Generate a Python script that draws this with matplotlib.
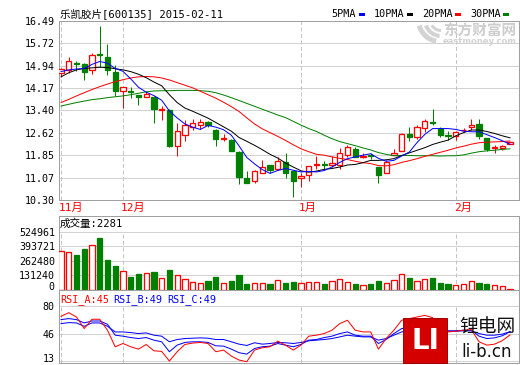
import matplotlib
matplotlib.use("Agg")
import matplotlib.pyplot as plt
from matplotlib.patches import Rectangle, Wedge
import matplotlib.transforms as mtrans
import numpy as np

# ---------------- data ----------------
title = "乐凯胶片[600135] 2015-02-11"
opens = [14.68, 14.80, 15.03, 15.00, 14.80, 15.35, 15.23, 14.72, 14.06, 14.06,
         13.93, 13.85, 13.85, 13.42, 13.41, 12.17, 12.54, 12.84, 12.91, 13.00,
         12.72, 12.41, 12.38, 11.96, 11.06, 10.97, 11.25, 11.52, 11.36, 11.62,
         11.32, 11.06, 11.15, 11.51, 11.55, 11.50, 11.50, 11.87, 12.05, 11.80,
         11.84, 11.43, 11.25, 11.85, 12.01, 12.58, 12.49, 12.79, 13.00, 12.74,
         12.55, 12.51, 12.71, 12.81, 12.93, 12.45, 12.10, 12.10, 12.24]
highs = [14.88, 15.23, 15.10, 15.05, 15.37, 16.32, 15.70, 14.97, 14.22, 14.20,
         13.93, 14.08, 13.90, 13.55, 13.44, 12.95, 13.07, 13.09, 13.09, 13.04,
         12.74, 12.58, 12.40, 11.98, 11.29, 11.34, 11.68, 11.52, 11.78, 11.91,
         11.32, 11.25, 11.48, 11.82, 11.64, 11.82, 12.10, 12.19, 12.15, 11.94,
         11.91, 11.43, 11.68, 12.08, 12.63, 12.81, 12.88, 13.09, 13.46, 12.84,
         12.70, 12.70, 12.79, 13.11, 13.09, 12.45, 12.19, 12.19, 12.30]
lows = [14.54, 14.68, 14.75, 14.45, 14.65, 14.91, 14.62, 13.90, 13.47, 13.81,
        13.59, 13.85, 12.98, 13.07, 12.15, 11.82, 12.35, 12.72, 12.77, 12.81,
        12.17, 12.33, 12.00, 10.85, 10.88, 10.90, 11.22, 11.22, 11.36, 11.06,
        10.39, 10.76, 10.97, 11.38, 11.38, 11.43, 11.38, 11.80, 11.78, 11.75,
        11.73, 10.88, 11.25, 11.85, 12.00, 12.35, 12.42, 12.65, 12.91, 12.49,
        12.38, 12.38, 12.65, 12.72, 12.42, 12.01, 11.94, 12.03, 12.23]
closes = [14.82, 15.10, 15.00, 14.74, 15.30, 15.33, 14.80, 14.08, 14.22, 14.04,
          13.85, 13.97, 13.46, 13.44, 12.17, 12.68, 12.88, 12.95, 13.00, 12.88,
          12.40, 12.43, 12.01, 11.11, 10.90, 11.29, 11.45, 11.34, 11.64, 11.25,
          10.97, 11.13, 11.48, 11.53, 11.50, 11.57, 11.94, 12.12, 11.80, 11.83,
          11.81, 11.15, 11.62, 11.94, 12.58, 12.49, 12.81, 13.04, 12.95, 12.54,
          12.53, 12.65, 12.72, 12.88, 12.51, 12.05, 12.12, 12.17, 12.30]
ma5 = [14.74, 14.80, 14.83, 14.85, 14.99, 15.09, 15.03, 14.85, 14.75, 14.49,
       14.20, 14.03, 13.91, 13.75, 13.38, 13.14, 12.93, 12.82, 12.74, 12.88,
       12.82, 12.73, 12.54, 12.17, 11.77, 11.55, 11.35, 11.22, 11.32, 11.39,
       11.33, 11.27, 11.29, 11.27, 11.32, 11.44, 11.60, 11.73, 11.79, 11.85,
       11.90, 11.74, 11.64, 11.67, 11.82, 11.96, 12.29, 12.57, 12.77, 12.77,
       12.77, 12.74, 12.68, 12.66, 12.66, 12.56, 12.46, 12.35, 12.23]
ma10 = [14.56, 14.70, 14.80, 14.85, 14.87, 14.89, 14.88, 14.84, 14.80, 14.74,
        14.65, 14.53, 14.38, 14.25, 13.94, 13.67, 13.48, 13.37, 13.25, 13.13,
        12.98, 12.83, 12.68, 12.46, 12.33, 12.19, 12.04, 11.88, 11.75, 11.58,
        11.44, 11.31, 11.26, 11.30, 11.36, 11.39, 11.44, 11.51, 11.53, 11.59,
        11.67, 11.67, 11.69, 11.73, 11.84, 11.93, 12.02, 12.11, 12.22, 12.30,
        12.37, 12.52, 12.63, 12.72, 12.72, 12.67, 12.60, 12.52, 12.45]
ma20 = [13.67, 13.78, 13.90, 14.01, 14.12, 14.22, 14.31, 14.39, 14.46, 14.52,
        14.56, 14.57, 14.56, 14.52, 14.45, 14.36, 14.27, 14.18, 14.06, 13.94,
        13.82, 13.68, 13.53, 13.36, 13.14, 12.93, 12.76, 12.63, 12.50, 12.36,
        12.21, 12.07, 11.97, 11.88, 11.85, 11.79, 11.74, 11.70, 11.64, 11.59,
        11.56, 11.49, 11.48, 11.52, 11.60, 11.66, 11.73, 11.81, 11.88, 11.95,
        12.02, 12.10, 12.16, 12.23, 12.28, 12.30, 12.31, 12.32, 12.34]
ma30 = [13.55, 13.61, 13.67, 13.72, 13.77, 13.80, 13.84, 13.87, 13.90, 13.94,
        13.99, 14.04, 14.07, 14.08, 14.08, 14.09, 14.09, 14.09, 14.08, 14.06,
        14.01, 13.93, 13.84, 13.74, 13.64, 13.54, 13.44, 13.34, 13.24, 13.15,
        13.02, 12.89, 12.77, 12.67, 12.54, 12.42, 12.32, 12.25, 12.18, 12.10,
        12.03, 11.94, 11.88, 11.83, 11.84, 11.84, 11.83, 11.83, 11.83, 11.82,
        11.83, 11.83, 11.86, 11.92, 11.97, 12.00, 12.02, 12.05, 12.07]
volumes = [349000, 342000, 318000, 370000, 406000, 470000, 269000, 215000, 169000, 114000,
           144000, 151000, 160000, 105000, 178000, 130000, 93000, 71000, 59000, 78000,
           114000, 59000, 80000, 132000, 50000, 57000, 57000, 50000, 87000, 59000,
           68000, 59000, 68000, 68000, 50000, 78000, 96000, 68000, 50000, 38000,
           50000, 78000, 59000, 87000, 142000, 105000, 78000, 96000, 105000, 59000,
           50000, 41000, 50000, 78000, 59000, 50000, 38000, 29000, 2281]
rsi_a = [67.8, 72.3, 67.0, 52.8, 64.2, 64.2, 50.8, 30.5, 34.5, 30.5,
         27.6, 33.3, 25.6, 24.8, 13.0, 24.4, 33.3, 35.0, 35.8, 34.5,
         24.4, 26.4, 19.1, 14.2, 12.2, 26.4, 29.3, 30.5, 37.4, 32.5,
         26.4, 32.5, 43.5, 44.7, 46.7, 50.8, 58.9, 63.0, 50.8, 48.7,
         48.7, 27.6, 40.6, 50.8, 63.0, 65.0, 67.0, 69.0, 66.2, 50.8,
         48.7, 49.6, 50.8, 51.6, 36.6, 32.5, 33.7, 38.0, 45.0]
rsi_b = [63.8, 65.0, 63.8, 59.7, 62.1, 62.1, 58.1, 44.7, 43.5, 41.8,
         40.6, 41.8, 38.6, 36.6, 24.4, 32.5, 35.8, 36.6, 36.6, 35.8,
         31.7, 31.3, 27.6, 23.2, 21.5, 28.4, 30.5, 31.3, 34.5, 32.5,
         30.5, 33.3, 38.6, 39.4, 41.8, 43.5, 46.7, 48.7, 44.7, 43.5,
         43.5, 34.5, 39.4, 46.7, 52.8, 54.0, 55.6, 56.9, 55.6, 50.8,
         50.0, 50.0, 50.8, 50.8, 43.5, 40.6, 41.4, 44.0, 49.0]
rsi_c = [58.9, 60.1, 59.7, 55.6, 59.7, 59.7, 55.6, 48.7, 48.7, 47.9,
         46.7, 47.5, 44.7, 43.5, 36.6, 39.4, 40.6, 41.0, 41.4, 41.0,
         39.4, 39.4, 36.6, 33.7, 32.1, 35.4, 33.7, 34.5, 35.8, 35.4,
         34.5, 35.8, 37.8, 38.6, 39.4, 40.6, 42.6, 44.7, 43.5, 42.6,
         42.6, 38.6, 40.6, 44.7, 48.7, 50.8, 51.6, 52.8, 52.8, 50.0,
         49.6, 49.6, 50.0, 50.0, 46.7, 44.7, 44.7, 46.0, 49.0]
price_ticks = [16.49, 15.72, 14.94, 14.17, 13.40, 12.62, 11.85, 11.07, 10.30]
vol_ticks = [0, 131240, 262480, 393721, 524961]
rsi_ticks = [80, 46, 13]
month_labels = ["11月", "12月", "1月", "2月"]
month_start = [0, 8, 31, 51]
ma_labels = ["5PMA", "10PMA", "20PMA", "30PMA"]
vol_label = "成交量:2281"
rsi_labels = ["RSI_A:45", "RSI_B:49", "RSI_C:49"]

# ---------------- styling ----------------
W, H = 520, 365
fig = plt.figure(figsize=(W / 100, H / 100), dpi=100)
fig.patch.set_facecolor("white")

RED = "#ff0000"; GREEN = "#008000"; BLUE = "#0000ff"; BLACK = "#000000"
GRID = "#d2d2d2"; SPINE = "#a0a0a0"; DASH = "#c4c4c4"
MONO = ["DejaVu Sans Mono", "Noto Sans CJK SC"]
LW = 0.72
ma_colors = [BLUE, BLACK, RED, GREEN]


def pax(x0, y0, x1, y1):
    return fig.add_axes([x0 / W, 1 - y1 / H, (x1 - x0) / W, (y1 - y0) / H])


def ftext(x, y, s, **kw):
    kw.setdefault("family", MONO)
    kw.setdefault("fontsize", 7.4)
    kw.setdefault("va", "center")
    return fig.text(x / W, 1 - y / H, s, **kw)


n = len(closes)
xs = np.arange(n)
xlim = (-0.26, n - 1 + 1.16)
bw = 0.68


def style_axes(ax, ticks, labels, ylim, fs=7.2, fam=None):
    ax.set_xlim(*xlim)
    ax.set_ylim(*ylim)
    ax.set_xticks([])
    ax.set_yticks(ticks)
    ax.set_yticklabels(labels, family=fam or MONO, fontsize=fs)
    ax.tick_params(axis="y", length=0, pad=3)
    for sp in ax.spines.values():
        sp.set_color(SPINE)
        sp.set_linewidth(LW)
    for t in ticks:
        ax.axhline(t, color=GRID, lw=LW, zorder=0)


def lift_label(ax, idx, px):
    lab = ax.get_yticklabels()[idx]
    lab.set_transform(lab.get_transform() +
                      mtrans.ScaledTranslation(0, px / 100, fig.dpi_scale_trans))


up = [c >= o for o, c in zip(opens, closes)]

# ---------------- price panel ----------------
ax = pax(59, 21, 519, 200)
style_axes(ax, price_ticks, [f"{v:.2f}" for v in price_ticks], (10.30, 16.49))
for m in month_start:
    ax.axvline(m, color=DASH, lw=LW, ls=(0, (4, 2.5)), zorder=0)
for i in range(n):
    col = RED if up[i] else GREEN
    ax.vlines(xs[i], lows[i], highs[i], color=col, lw=LW, zorder=2)
    lo, hi = min(opens[i], closes[i]), max(opens[i], closes[i])
    ax.add_patch(Rectangle((xs[i] - bw / 2, lo), bw, max(hi - lo, 0.001),
                           facecolor="white" if up[i] else GREEN,
                           edgecolor=col, lw=LW * 1.3, zorder=3))
for ser, col in zip([ma30, ma20, ma10, ma5], [GREEN, RED, BLACK, BLUE]):
    ax.plot(xs, ser, color=col, lw=LW, zorder=4)

# month labels below the price panel
tr = mtrans.blended_transform_factory(ax.transData, fig.transFigure)
for lab, m in zip(month_labels, month_start):
    ax.text(m - 0.25, 1 - 208 / H, lab, transform=tr, color=RED,
            family=MONO, fontsize=8.0, va="center", ha="left", clip_on=False)

# title & legend
ftext(60, 14, title, fontsize=7.6)
leg_text_x = [331.5, 374, 422, 470]
leg_dash_x = [359, 407, 455, 503]
for lab, tx, dx, col in zip(ma_labels, leg_text_x, leg_dash_x, ma_colors):
    ftext(tx, 14, lab, fontsize=7.3)
    fig.add_artist(Rectangle((dx / W, 1 - 15.5 / H), 6 / W, 3 / H,
                             transform=fig.transFigure, color=col, lw=0))

# watermark (eastmoney) drawn over the price panel
wm_ax = fig.add_axes([0, 0, 1, 1], facecolor="none")
wm_ax.set_xlim(0, W); wm_ax.set_ylim(H, 0); wm_ax.axis("off")
wm_ax.set_zorder(5)
for (cx, cy, r, t1, t2, wd) in [(440, 20, 24, 100, 165, 5), (441, 20, 18, 95, 160, 4),
                                (441, 20, 12, 90, 150, 3)]:
    wm_ax.add_patch(Wedge((cx, cy), r, t1, t2, width=wd, facecolor="#d3d3d3", lw=0))
ftext(443, 31, "东方财富网", family=["Noto Sans CJK SC"], fontsize=10.5,
      weight="bold", color="#cdcdcd", zorder=6)
ftext(443, 42, "eastmoney.com", family=["DejaVu Sans"], fontsize=6.0,
      weight="bold", color="#d2d2d2", zorder=6)

# ---------------- volume panel ----------------
axv = pax(59, 216, 519, 289.5)
style_axes(axv, vol_ticks, [str(v) for v in vol_ticks], (0, 671000), fs=7.2)
lift_label(axv, 0, 4)
for m in month_start:
    axv.vlines(m, 0, vol_ticks[-1], color=DASH, lw=LW, ls=(0, (4, 2.5)), zorder=0)
for i in range(n):
    col = RED if up[i] else GREEN
    axv.add_patch(Rectangle((xs[i] - bw / 2, 0), bw, volumes[i],
                            facecolor="white" if up[i] else GREEN,
                            edgecolor=col, lw=LW * 1.3, zorder=3))
ftext(60, 224, vol_label, fontsize=7.6)

# ---------------- RSI panel ----------------
axr = pax(59, 289.5, 519, 363)
style_axes(axr, rsi_ticks, [str(v) for v in rsi_ticks], (10.6, 100.7))
lift_label(axr, 2, 3)
for m in month_start:
    axr.vlines(m, 10.6, 80, color=DASH, lw=LW, ls=(0, (4, 2.5)), zorder=0)
axr.plot(xs, rsi_c, color=BLUE, lw=LW, zorder=3)
axr.plot(xs, rsi_b, color=BLUE, lw=LW, zorder=3)
axr.plot(xs, rsi_a, color=RED, lw=LW, zorder=4)
for lab, tx, col in zip(rsi_labels, [60, 113, 167], [RED, BLUE, BLUE]):
    ftext(tx, 300, lab, color=col, fontsize=7.3)

# li-b.cn logo
fig.add_artist(Rectangle((403 / W, 1 - 363 / H), 44 / W, 45 / H,
                         transform=fig.transFigure, facecolor="#d40000",
                         edgecolor="#a00000", lw=0.7, zorder=10))
ftext(425, 341, "LI", family=["DejaVu Sans"], fontsize=20, weight="bold",
      color="white", ha="center", zorder=11)
ftext(487, 327, "锂电网", family=["Noto Sans CJK SC"], fontsize=13.5,
      color="#111111", ha="center", zorder=11)
ftext(487, 352, "li-b.cn", family=["DejaVu Sans"], fontsize=12,
      color="#111111", ha="center", zorder=11)

fig.savefig("out.png", dpi=100, facecolor="white")
